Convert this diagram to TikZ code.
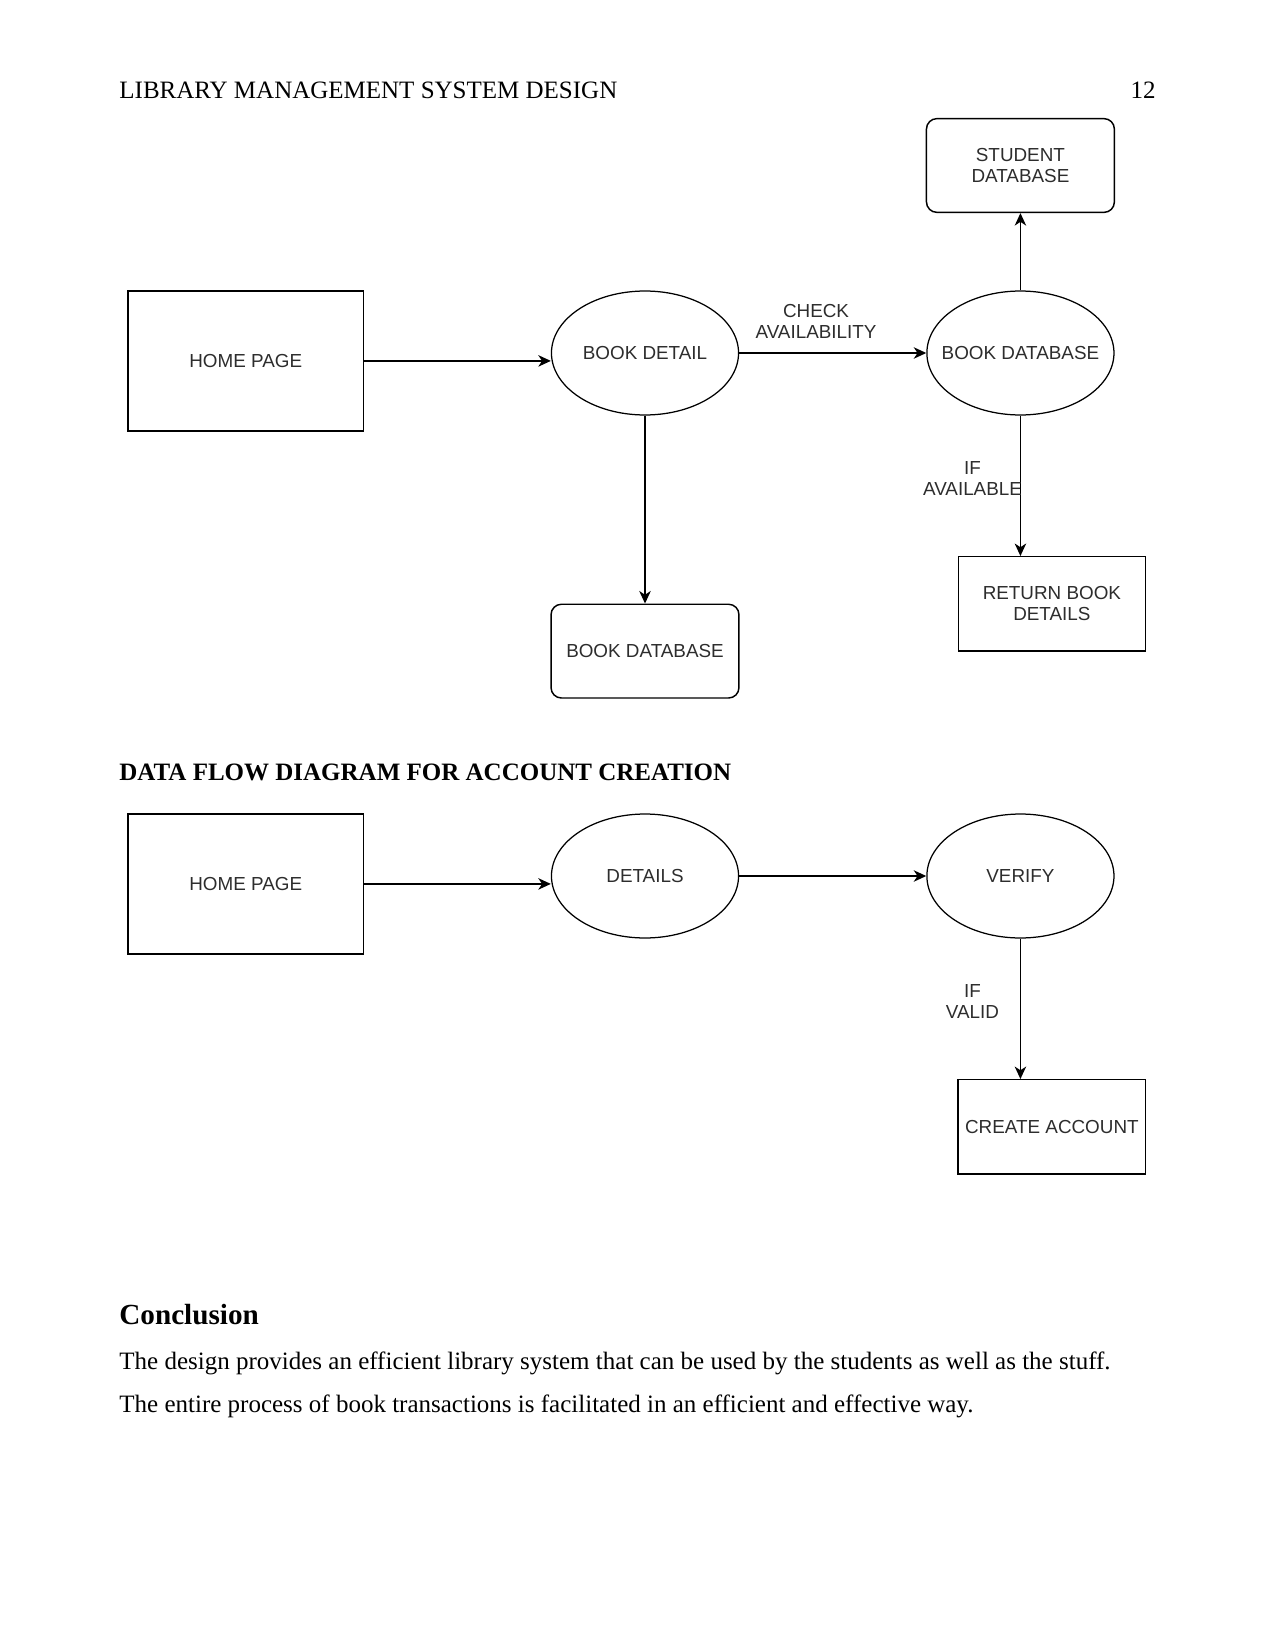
\documentclass[tikz,border=0pt]{standalone}
\usepackage{fontspec}
\setmainfont{Liberation Serif}
\setsansfont{Liberation Sans}
\usepackage{tikz}
\usetikzlibrary{positioning, arrows.meta, shapes.geometric, calc}
\definecolor{dfdgrey}{RGB}{45, 45, 45}
\newcommand{\dfdfont}{\sffamily\fontsize{9.05}{10.2}\selectfont}
\tikzset{
  ext/.style={
    draw=black, line width=0.7pt,
    minimum width=112.8pt, minimum height=67.2pt,
    align=center, font=\dfdfont, text=dfdgrey,
  },
  proc/.style={
    draw=black, line width=0.6pt, ellipse,
    minimum width=89.8pt, minimum height=59.5pt,
    inner xsep=-8pt, inner ysep=0pt,
    align=center, font=\dfdfont, text=dfdgrey,
  },
  store/.style={
    draw=black, line width=0.7pt, rounded corners=5pt,
    minimum width=90.2pt, minimum height=45pt,
    align=center, font=\dfdfont, text=dfdgrey,
  },
  outbox/.style={
    draw=black, line width=0.7pt,
    minimum width=89.8pt, minimum height=45.2pt,
    align=center, font=\dfdfont, text=dfdgrey,
  },
  rel/.style={draw=black, line width=0.7pt, -{Stealth[length=6pt, width=5.5pt, inset=1.8pt]}},
  flowlbl/.style={font=\dfdfont, text=dfdgrey, align=center, inner sep=0pt},
  pagetext/.style={anchor=base west, inner sep=0pt, font=\fontsize{12}{14}\selectfont},
}

\begin{document}
\begin{tikzpicture}[x=0.48pt, y=-0.48pt]
\useasboundingbox (0,0) rectangle (1275,1651);

\node[pagetext] (head) at (119,99) {LIBRARY MANAGEMENT SYSTEM DESIGN};
\node[pagetext, anchor=base east] (pgno) at (1156,99) {12};

% book search
\node[proc] (bookdet) at (645,353) {BOOK DETAIL};
\node[ext, left=89.7pt of bookdet, yshift=-3.8pt] (home) {HOME PAGE};
\node[proc, right=89.8pt of bookdet] (bookdb) {BOOK DATABASE};
\node[store, above=37.1pt of bookdb] (studdb) {STUDENT\\DATABASE};
\node[store, below=90.2pt of bookdet] (bookstore) {BOOK DATABASE};
\node[outbox, below=67.4pt of bookdb, xshift=15.1pt] (retbook) {RETURN BOOK\\DETAILS};

\draw[rel] (home.east) -- (home.east -| bookdet.west);
\draw[rel] (bookdet) -- node[flowlbl, xshift=-8pt, yshift=15pt] (chklbl) {CHECK\\AVAILABILITY} (bookdb);
\draw[rel] (bookdb) -- (studdb);
\draw[rel] (bookdet) -- (bookstore);
\draw[rel] (bookdb.south) -- node[flowlbl, pos=0.45, xshift=-23pt] (availlbl) {IF\\AVAILABLE} (bookdb.south |- retbook.north);

\node[pagetext, font=\fontsize{12}{14}\selectfont\bfseries] (dfdtitle) at (119,780) {DATA FLOW DIAGRAM FOR ACCOUNT CREATION};

% account creation
\node[proc] (details) at (645,876) {DETAILS};
\node[ext, left=89.7pt of details, yshift=-3.8pt] (home2) {HOME PAGE};
\node[proc, right=89.8pt of details] (verify) {VERIFY};
\node[outbox, below=67.4pt of verify, xshift=15.1pt] (create) {CREATE ACCOUNT};

\draw[rel] (home2.east) -- (home2.east -| details.west);
\draw[rel] (details) -- (verify);
\draw[rel] (verify.south) -- node[flowlbl, pos=0.45, xshift=-23pt] (validlbl) {IF\\VALID} (verify.south |- create.north);

\node[pagetext, font=\fontsize{14}{16}\selectfont\bfseries] (concl) at (119,1324) {Conclusion};
\node[pagetext] (body1) at (119,1369) {The design provides an efficient library system that can be used by the students as well as the stuff.};
\node[pagetext] (body2) at (119,1412) {The entire process of book transactions is facilitated in an efficient and effective way.};

\end{tikzpicture}
\end{document}
